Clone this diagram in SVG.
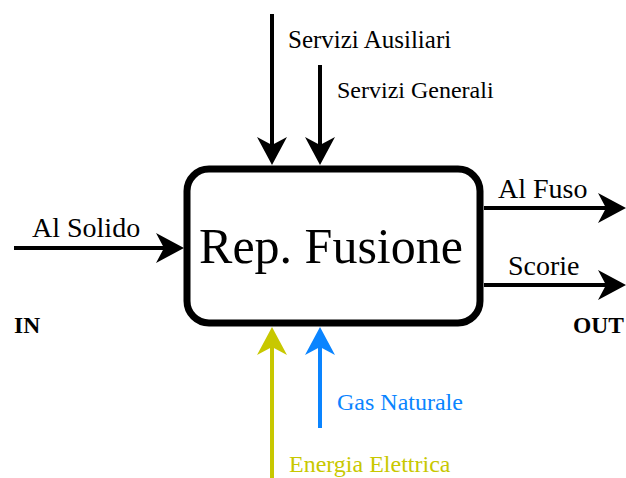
<svg xmlns="http://www.w3.org/2000/svg" width="626" height="478" viewBox="0 0 626 478">
  <style>
    .lbl { font-family: "Liberation Serif", "Times New Roman", serif; }
    .flow { fill: none; stroke-width: 4; }
    .blk { stroke: #000; }
    .yel { stroke: #C8C800; }
    .blu { stroke: #0A84FF; }
  </style>
  <defs>
    <marker id="ah-black" markerUnits="userSpaceOnUse" viewBox="-12 -16 32 32" markerWidth="32" markerHeight="32" refX="0" refY="0" orient="auto">
      <path d="M18,0 L-10,-15 L-2,0 L-10,15 Z" fill="#000"/>
    </marker>
    <marker id="ah-yellow" markerUnits="userSpaceOnUse" viewBox="-12 -16 32 32" markerWidth="32" markerHeight="32" refX="0" refY="0" orient="auto">
      <path d="M18,0 L-10,-15 L-2,0 L-10,15 Z" fill="#C8C800"/>
    </marker>
    <marker id="ah-blue" markerUnits="userSpaceOnUse" viewBox="-12 -16 32 32" markerWidth="32" markerHeight="32" refX="0" refY="0" orient="auto">
      <path d="M18,0 L-10,-15 L-2,0 L-10,15 Z" fill="#0A84FF"/>
    </marker>
  </defs>
  <rect width="626" height="478" fill="#fff"/>

  <g id="connectors">
    <line class="flow blk" x1="14" y1="248" x2="166" y2="248" marker-end="url(#ah-black)"/>
    <line class="flow blk" x1="484" y1="208" x2="608" y2="208" marker-end="url(#ah-black)"/>
    <line class="flow blk" x1="484" y1="285" x2="608" y2="285" marker-end="url(#ah-black)"/>
    <line class="flow blk" x1="272" y1="14" x2="272" y2="147" marker-end="url(#ah-black)"/>
    <line class="flow blk" x1="320" y1="65" x2="320" y2="147" marker-end="url(#ah-black)"/>
    <line class="flow yel" x1="272" y1="478" x2="272" y2="345" marker-end="url(#ah-yellow)"/>
    <line class="flow blu" x1="320" y1="428" x2="320" y2="345" marker-end="url(#ah-blue)"/>
  </g>

  <g id="node-fusione">
    <rect x="187" y="169" width="293" height="154" rx="22" ry="22" fill="#fff" stroke="#000" stroke-width="7"/>
    <text class="lbl" x="331" y="263" font-size="50" text-anchor="middle" fill="#000">Rep. Fusione</text>
  </g>

  <g id="labels">
    <text class="lbl" x="32" y="237" font-size="28" fill="#000">Al Solido</text>
    <text class="lbl" x="498" y="198" font-size="28" fill="#000">Al Fuso</text>
    <text class="lbl" x="508" y="275" font-size="28" fill="#000">Scorie</text>
    <text class="lbl" x="288" y="48" font-size="25" fill="#000">Servizi Ausiliari</text>
    <text class="lbl" x="337" y="98" font-size="24" fill="#000">Servizi Generali</text>
    <text class="lbl" x="337" y="410" font-size="24" fill="#0A84FF">Gas Naturale</text>
    <text class="lbl" x="289" y="472" font-size="24" fill="#C8C800">Energia Elettrica</text>
    <text class="lbl" x="14" y="333" font-size="23.5" font-weight="bold" fill="#000">IN</text>
    <text class="lbl" x="573" y="333" font-size="23.5" font-weight="bold" fill="#000">OUT</text>
  </g>
</svg>
